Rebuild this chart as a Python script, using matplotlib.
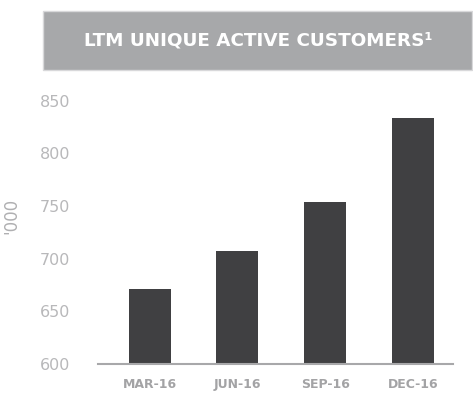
import matplotlib.pyplot as plt
from matplotlib.patches import Rectangle

quarters = ['MAR-16', 'JUN-16', 'SEP-16', 'DEC-16']
customers = [671, 707, 754, 834]
y_ticks = [600, 650, 700, 750, 800, 850]

fig = plt.figure(figsize=(4.73, 3.97), dpi=100)
ax = fig.add_axes([0.207, 0.083, 0.751, 0.663])

ax.bar(range(len(quarters)), customers, width=0.48, color='#404042', zorder=2)
ax.set_ylim(600, 850)
ax.set_xlim(-0.59, 3.46)
ax.set_yticks(y_ticks)
ax.set_xticks(range(len(quarters)))
ax.set_xticklabels(quarters, fontsize=9, fontweight='bold', color='#a3a3a5')
ax.tick_params(axis='y', length=0, labelsize=11.5, labelcolor='#b8b8ba')
ax.tick_params(axis='x', length=0, pad=10)
for lbl in ax.get_yticklabels():
    lbl.set_horizontalalignment('left')
ax.yaxis.set_tick_params(pad=42)

for s in ['top', 'right', 'left']:
    ax.spines[s].set_visible(False)
ax.spines['bottom'].set_color('#a8a8aa')
ax.spines['bottom'].set_linewidth(1.5)

fig.text(0.024, 0.455, "'000", rotation=90, fontsize=12, color='#b0b0b2',
         ha='center', va='center')

# title banner
fig.patches.append(Rectangle((0.091, 0.824), 0.907, 0.149, transform=fig.transFigure,
                             facecolor='#a7a8aa', edgecolor='#d8d8da', linewidth=1))
fig.text(0.545, 0.898, 'LTM UNIQUE ACTIVE CUSTOMERS\u00b9', fontsize=13.2,
         fontweight='bold', color='white', ha='center', va='center')

fig.savefig('out.png', dpi=100)
